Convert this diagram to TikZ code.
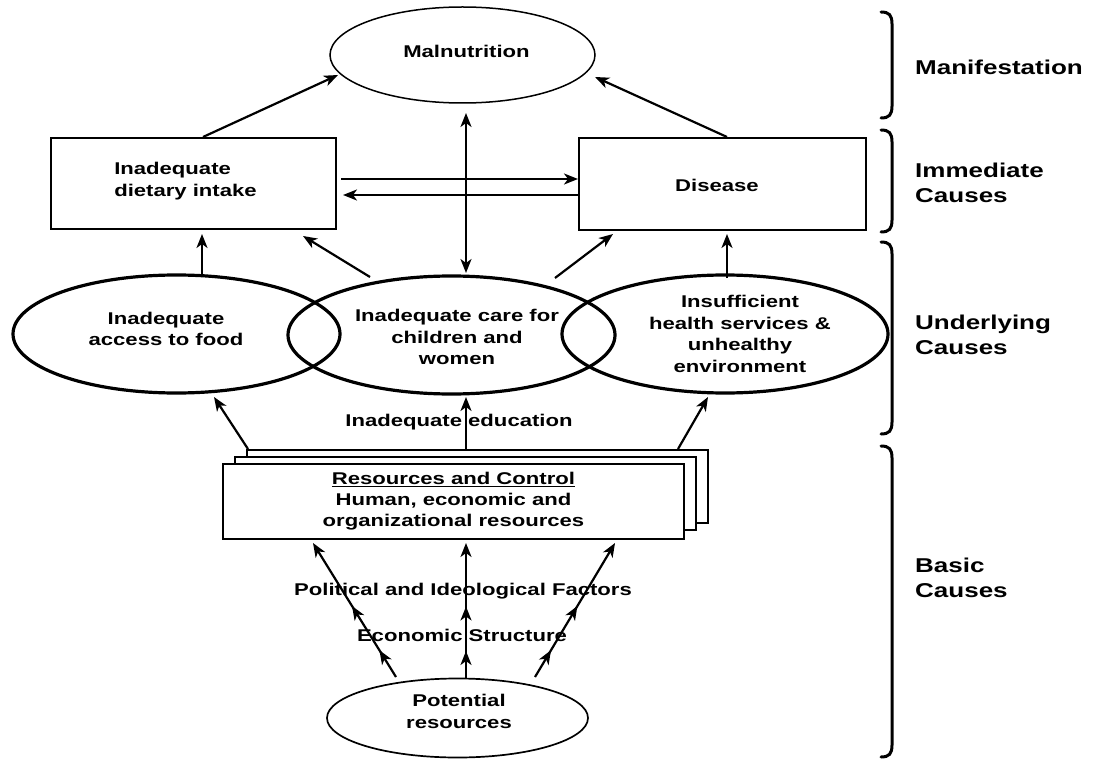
\documentclass[tikz,border=0pt]{standalone}
\usepackage{fontspec}
\setmainfont{Liberation Sans}[FakeStretch=1.3]
\usetikzlibrary{shapes.geometric,arrows.meta,decorations.markings}
\begin{document}
\begin{tikzpicture}[x=1pt,y=-1pt,
  every node/.style={font=\bfseries\fontsize{17}{21.5}\selectfont, inner sep=0pt, align=center},
  lab/.style={font=\bfseries\fontsize{20}{25}\selectfont, anchor=west, align=left},
  oval/.style={draw, ellipse, line width=3.2pt},
  box/.style={draw, rectangle, line width=2pt, fill=white},
  tip/.style={-{Stealth[length=14pt,width=11pt,inset=4pt]}},
  arr/.style={line width=2.2pt, tip},
  darr/.style={line width=2.2pt, {Stealth[length=14pt,width=11pt,inset=4pt]}-{Stealth[length=14pt,width=11pt,inset=4pt]}},
  multi/.style={arr, postaction={decorate, decoration={markings,
     mark=at position 0.20 with {\arrow{Stealth[length=14pt,width=11pt,inset=4pt]}},
     mark=at position 0.53 with {\arrow{Stealth[length=14pt,width=11pt,inset=4pt]}}}}},
  brace/.style={line width=3pt, line cap=round}
]
\useasboundingbox (0,0) rectangle (1094,759);
\fill[white] (0,0) rectangle (1094,759);

% Manifestation
\node[draw, ellipse, line width=1.5pt, minimum width=265pt, minimum height=96pt] (mal) at (462.5,55) {};
\node (maltxt) at (466.5,51) {Malnutrition};

% Immediate causes
\node[box, minimum width=285pt, minimum height=91pt] (diet) at (193.5,183.5) {};
\node[align=left] (diettxt) at (185.5,181) {Inadequate\\dietary intake};
\node[box, minimum width=287pt, minimum height=92pt] (dis) at (722.5,184) {};
\node (distxt) at (717,185) {Disease};

% Underlying causes
\node[oval, minimum width=327pt, minimum height=118pt] (food) at (176.5,334) {};
\node[oval, minimum width=327pt, minimum height=118pt] (care) at (451.5,335) {};
\node[oval, minimum width=326pt, minimum height=118pt] (health) at (725,334) {};
\node (foodtxt) at (166,329) {Inadequate\\access to food};
\node (caretxt) at (457,337) {Inadequate care for\\children and\\women};
\node[font=\bfseries\fontsize{17}{21.7}\selectfont] (healthtxt) at (740,334) {Insufficient\\health services \&\\unhealthy\\environment};
\node (edu) at (459,422) {Inadequate education};

% Basic causes
\node[box, minimum width=461pt, minimum height=73pt] (back) at (477.5,486.5) {};
\node[box, minimum width=461pt, minimum height=73pt] (midbox) at (465.5,493.5) {};
\node[box, minimum width=461pt, minimum height=75pt, font=\bfseries\fontsize{17}{21}\selectfont] (res) at (453.5,501.5)
  {\underline{Resources and Control}\\Human, economic and\\organizational resources};
\node (pol) at (463,591) {Political and Ideological Factors};
\node (eco) at (462,635) {Economic Structure};
\node[draw, ellipse, line width=1.7pt, minimum width=261pt, minimum height=79pt] (pot) at (457.5,718) {};
\node (pottxt) at (459,711.5) {Potential\\resources};

% Right labels
\node[lab] (l1) at (915,67) {Manifestation};
\node[lab] (l2) at (915,182.5) {Immediate\\Causes};
\node[lab] (l3) at (915,335) {Underlying\\Causes};
\node[lab] (l4) at (915,578) {Basic\\Causes};

% Braces
\foreach \t/\b in {12/118, 130/232, 242/434, 446/757} {
  \draw[brace] (881,\t) .. controls (889,\t) and (892,\t+3) .. (892,\t+12) -- (892,\b-12) .. controls (892,\b-3) and (889,\b) .. (881,\b);
}

% Immediate -> Manifestation
\draw[arr] ([shift={(9.5,0)}]diet.north) -- ([shift={(-124.5,20)}]mal.center);
\draw[arr] ([shift={(4.5,0)}]dis.north) -- ([shift={(132.5,22)}]mal.center);
\draw[darr] ([shift={(3.5,58)}]mal.center) -- ([shift={(14.5,-62)}]care.center);
\draw[arr] ([shift={(4,-4.5)}]diet.east) -- ([shift={(0,-5)}]dis.west);
\draw[arr] ([shift={(0,11)}]dis.west) -- ([shift={(6,11.5)}]diet.east);

% Underlying -> Immediate
\draw[arr] ([shift={(25.5,-57)}]food.center) -- ([shift={(8.5,4)}]diet.south);
\draw[arr] ([shift={(-81.5,-58)}]care.center) -- ([shift={(109.5,6)}]diet.south);
\draw[arr] ([shift={(103.5,-57)}]care.center) -- ([shift={(-109.5,3)}]dis.south);
\draw[arr] ([shift={(2,-56)}]health.center) -- ([shift={(4.5,3)}]dis.south);

% Basic -> Underlying
\draw[arr] ([shift={(2,0)}]back.north west) -- ([shift={(37.5,63)}]food.center);
\draw[arr] ([shift={(-11.5,0)}]back.north) -- ([shift={(14.5,62)}]care.center);
\draw[arr] ([shift={(-31,0)}]back.north east) -- ([shift={(-17,63)}]health.center);

% Potential -> Resources
\draw[multi] ([shift={(-61.5,-41)}]pot.center) -- ([shift={(-140.5,3)}]res.south);
\draw[multi] ([shift={(8.5,-40)}]pot.center) -- ([shift={(12.5,3)}]res.south);
\draw[multi] ([shift={(77.5,-41)}]pot.center) -- ([shift={(161.5,3)}]res.south);
\end{tikzpicture}
\end{document}
